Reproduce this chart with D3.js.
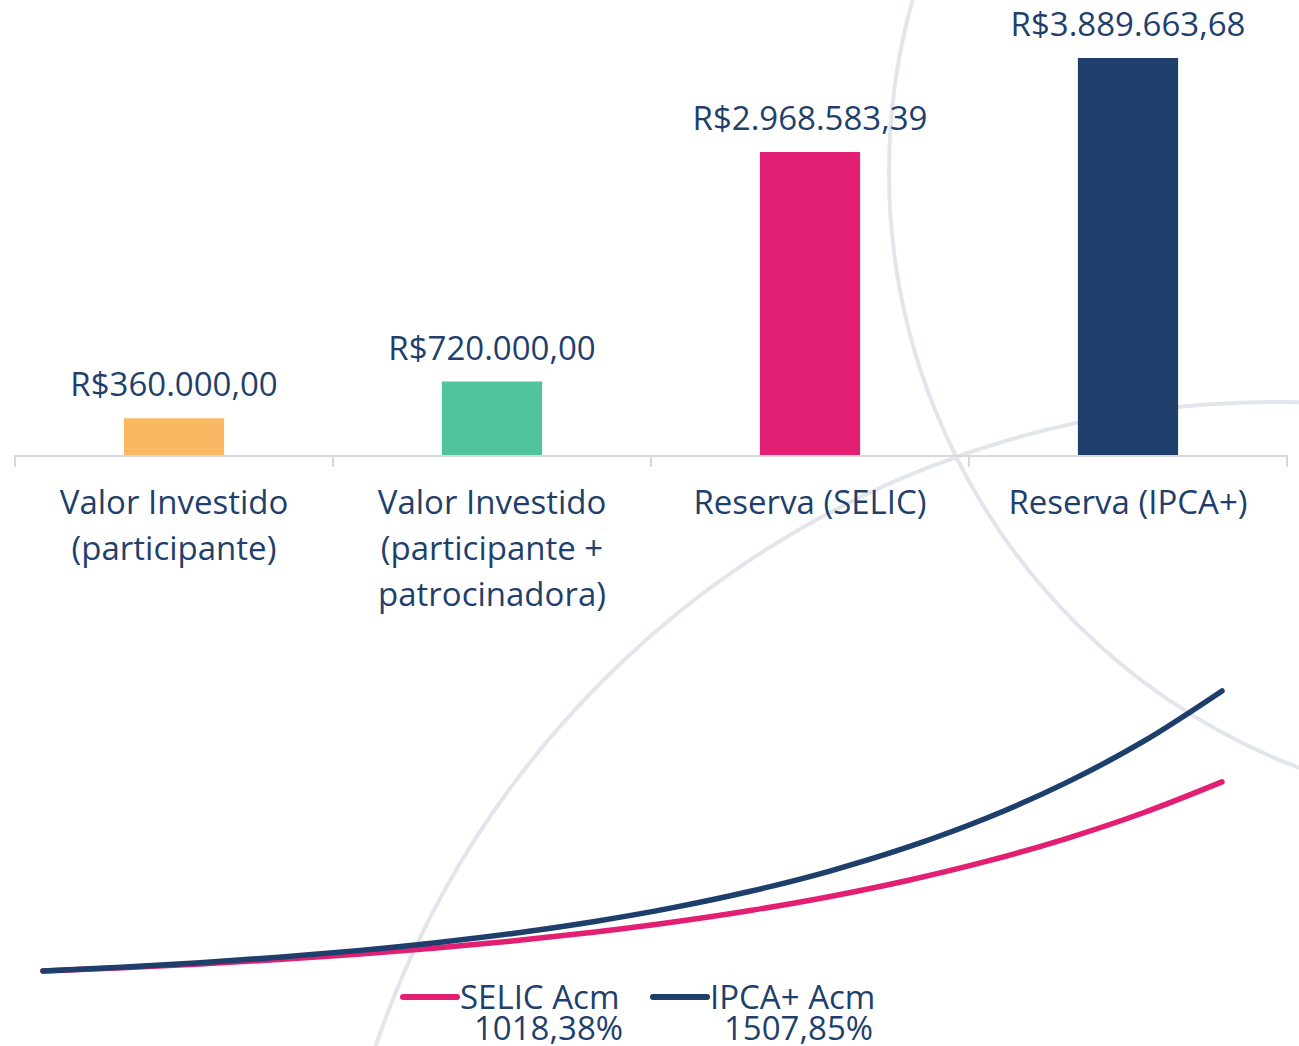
<!DOCTYPE html>
<html>
<head>
<meta charset="utf-8">
<script src="https://cdn.jsdelivr.net/npm/d3@7"></script>
<style>
  html, body { margin: 0; padding: 0; background: #ffffff; }
  svg { display: block; font-family: "Open Sans", "Noto Sans", sans-serif; }
</style>
</head>
<body>
<svg id="chart" width="1299" height="1046"></svg>
<script>
// ---------- data ----------
const categories = [
  "Valor Investido (participante)",
  "Valor Investido (participante + patrocinadora)",
  "Reserva (SELIC)",
  "Reserva (IPCA+)"
];
const barValues = [360000.00, 720000.00, 2968583.39, 3889663.68];

const years = [0, 2, 4, 6, 8, 10, 12, 14, 16, 18, 20, 22, 24, 26, 28, 30];
const selicAcm = [0, 17.5, 38.0, 62.1, 90.4, 123.6, 162.7, 208.6, 262.5, 325.8, 400.1, 487.5, 590.1, 710.6, 852.2, 1018.38];
const ipcaAcm  = [0, 20.3, 44.8, 74.3, 109.7, 152.4, 203.7, 265.5, 339.9, 429.4, 537.0, 666.6, 822.6, 1010.3, 1236.1, 1507.85];
const seriesNames = ["SELIC Acm", "IPCA+ Acm"];

// ---------- styles ----------
const barColors = ["#FBB862", "#4FC49D", "#E31F74", "#1E3F6B"];
const lineColors = ["#E31F74", "#1E3F6B"];
const textColor = "#1F3F6C";
const arcColor = "#E2E5EB";
const fontSize = 33;

const locale = d3.formatLocale({
  decimal: ",", thousands: ".", grouping: [3], currency: ["R$", ""]
});
const fmtMoney = locale.format("$,.2f");
const fmtPct = v => locale.format(".2f")(v) + "%";

const svg = d3.select("#chart");

// ---------- decorative arcs ----------
const deco = svg.append("g");
deco.append("circle").attr("cx", 1527).attr("cy", 172).attr("r", 638)
  .attr("fill", "none").attr("stroke", arcColor).attr("stroke-width", 4);
deco.append("circle").attr("cx", 1275).attr("cy", 1352).attr("r", 950)
  .attr("fill", "none").attr("stroke", arcColor).attr("stroke-width", 4);

// ---------- bar chart ----------
const x = d3.scaleBand().domain(categories).range([15, 1287]).padding(0);
const y = d3.scaleLinear().domain([0, d3.max(barValues)]).range([455, 58]);
const barW = x.bandwidth() * 0.315;

const bars = svg.append("g");
bars.selectAll("rect").data(categories).join("rect")
  .attr("x", d => x(d) + x.bandwidth() / 2 - barW / 2)
  .attr("y", (d, i) => y(barValues[i]))
  .attr("width", barW)
  .attr("height", (d, i) => y(0) - y(barValues[i]))
  .attr("fill", (d, i) => barColors[i]);

// axis line + ticks between categories
const axisG = svg.append("g");
axisG.append("line")
  .attr("x1", x.range()[0]).attr("x2", x.range()[1])
  .attr("y1", y(0) + 1).attr("y2", y(0) + 1)
  .attr("stroke", "#D9D9D9").attr("stroke-width", 2);
const tickXs = categories.map(c => x(c)).concat([x.range()[1]]);
axisG.selectAll("line.tick").data(tickXs).join("line")
  .attr("class", "tick")
  .attr("x1", d => d).attr("x2", d => d)
  .attr("y1", y(0)).attr("y2", y(0) + 12)
  .attr("stroke", "#D9D9D9").attr("stroke-width", 2);

// value labels
svg.append("g").selectAll("text").data(categories).join("text")
  .attr("x", d => x(d) + x.bandwidth() / 2)
  .attr("y", (d, i) => y(barValues[i]) - 22)
  .attr("text-anchor", "middle")
  .attr("font-size", fontSize)
  .attr("fill", textColor)
  .text((d, i) => fmtMoney(barValues[i]));

// category labels (wrapped)
const measurer = svg.append("text").attr("font-size", fontSize).attr("visibility", "hidden");
function wrap(str, maxW) {
  const words = str.split(" ");
  const lines = [];
  let cur = "";
  words.forEach(w => {
    const test = cur ? cur + " " + w : w;
    measurer.text(test);
    if (measurer.node().getComputedTextLength() > maxW && cur) {
      lines.push(cur); cur = w;
    } else cur = test;
  });
  if (cur) lines.push(cur);
  return lines;
}
const catG = svg.append("g");
categories.forEach(c => {
  const lines = wrap(c, 275);
  const t = catG.append("text")
    .attr("text-anchor", "middle")
    .attr("font-size", fontSize)
    .attr("fill", textColor);
  lines.forEach((ln, k) => {
    t.append("tspan")
      .attr("x", x(c) + x.bandwidth() / 2)
      .attr("y", 514 + k * 46)
      .text(ln);
  });
});
measurer.remove();

// ---------- line chart ----------
const xl = d3.scaleLinear().domain([d3.min(years), d3.max(years)]).range([43, 1222]);
const yl = d3.scaleLinear().domain([0, d3.max(ipcaAcm)]).range([971, 691]);
const lineGen = d3.line().x(d => xl(d[0])).y(d => yl(d[1])).curve(d3.curveMonotoneX);
const seriesData = [selicAcm, ipcaAcm];

svg.append("g").selectAll("path").data(seriesData).join("path")
  .attr("d", s => lineGen(years.map((yr, i) => [yr, s[i]])))
  .attr("fill", "none")
  .attr("stroke", (d, i) => lineColors[i])
  .attr("stroke-width", 5.5)
  .attr("stroke-linecap", "round");

// ---------- legend ----------
const legendX = [403, 653];
const leg = svg.append("g");
seriesNames.forEach((name, i) => {
  const g = leg.append("g").attr("transform", `translate(${legendX[i]},0)`);
  g.append("line").attr("x1", 0).attr("x2", 54).attr("y1", 997).attr("y2", 997)
    .attr("stroke", lineColors[i]).attr("stroke-width", 6).attr("stroke-linecap", "round");
  g.append("text").attr("x", 57).attr("y", 1009)
    .attr("font-size", fontSize).attr("fill", textColor).text(name);
  const last = seriesData[i][seriesData[i].length - 1];
  g.append("text").attr("x", 71).attr("y", 1040)
    .attr("font-size", fontSize).attr("fill", textColor).text(fmtPct(last));
});
</script>
</body>
</html>
